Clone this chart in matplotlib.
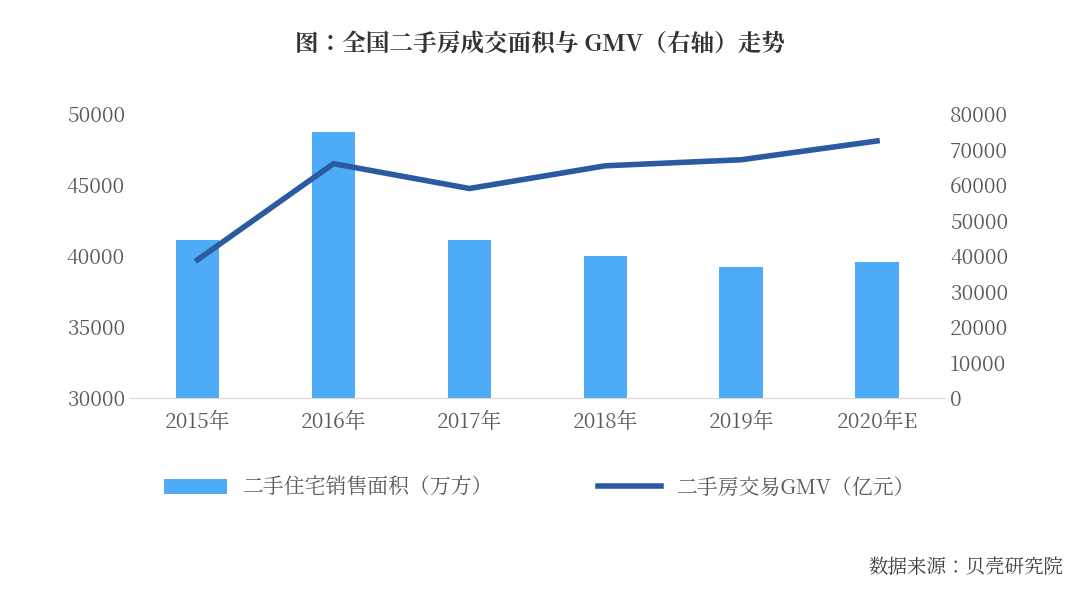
import matplotlib
matplotlib.use("Agg")
import matplotlib.pyplot as plt
from matplotlib import font_manager

# pick whatever CJK family is registered
cjk = [f.name for f in font_manager.fontManager.ttflist if "CJK" in f.name]
cjk_name = "Noto Sans CJK SC" if "Noto Sans CJK SC" in cjk else (cjk[0] if cjk else "DejaVu Sans")
plt.rcParams["font.family"] = "sans-serif"
plt.rcParams["font.sans-serif"] = [cjk_name, "DejaVu Sans"]

years = ["2015年", "2016年", "2017年", "2018年", "2019年", "2020年E"]
area = [41100, 48700, 41100, 40000, 39200, 39600]   # 万方
gmv = [38900, 66000, 59000, 65400, 67100, 72400]    # 亿元

bar_color = "#4DABF7"
line_color = "#2C5AA0"
tick_color = "#595959"

fig = plt.figure(figsize=(10.8, 6), dpi=100)
ax = fig.add_axes([0.12, 0.337, 0.755, 0.473])
x = range(len(years))
ax.bar(x, area, width=0.32, color=bar_color, label="二手住宅销售面积（万方）")
ax.set_ylim(30000, 50000)
ax.set_yticks(range(30000, 50001, 5000))
ax.set_xlim(-0.5, len(years) - 0.5)
ax.set_xticks(list(x))
ax.set_xticklabels(years)

ax2 = ax.twinx()
ax2.plot(x, gmv, color=line_color, lw=4, label="二手房交易GMV（亿元）")
ax2.set_ylim(0, 80000)
ax2.set_yticks(range(0, 80001, 10000))

for a in (ax, ax2):
    for s in a.spines.values():
        s.set_visible(False)
    a.tick_params(length=0, labelsize=15, colors=tick_color)
ax.spines["bottom"].set_visible(True)
ax.spines["bottom"].set_color("#d9d9d9")
ax.tick_params(axis="x", pad=10)

fig.text(0.5, 0.925, "图：全国二手房成交面积与 GMV（右轴）走势", ha="center",
         va="center", fontsize=17, fontweight="bold", color="#333333")

h1, l1 = ax.get_legend_handles_labels()
h2, l2 = ax2.get_legend_handles_labels()
fig.legend(h1 + h2, l1 + l2, loc="center", bbox_to_anchor=(0.5, 0.187), ncol=2,
           frameon=False, fontsize=15, columnspacing=5, handlelength=3,
           labelcolor=tick_color)

fig.text(0.985, 0.053, "数据来源：贝壳研究院", ha="right", va="center",
         fontsize=14, color="#404040")

fig.savefig("out.png", dpi=100)
